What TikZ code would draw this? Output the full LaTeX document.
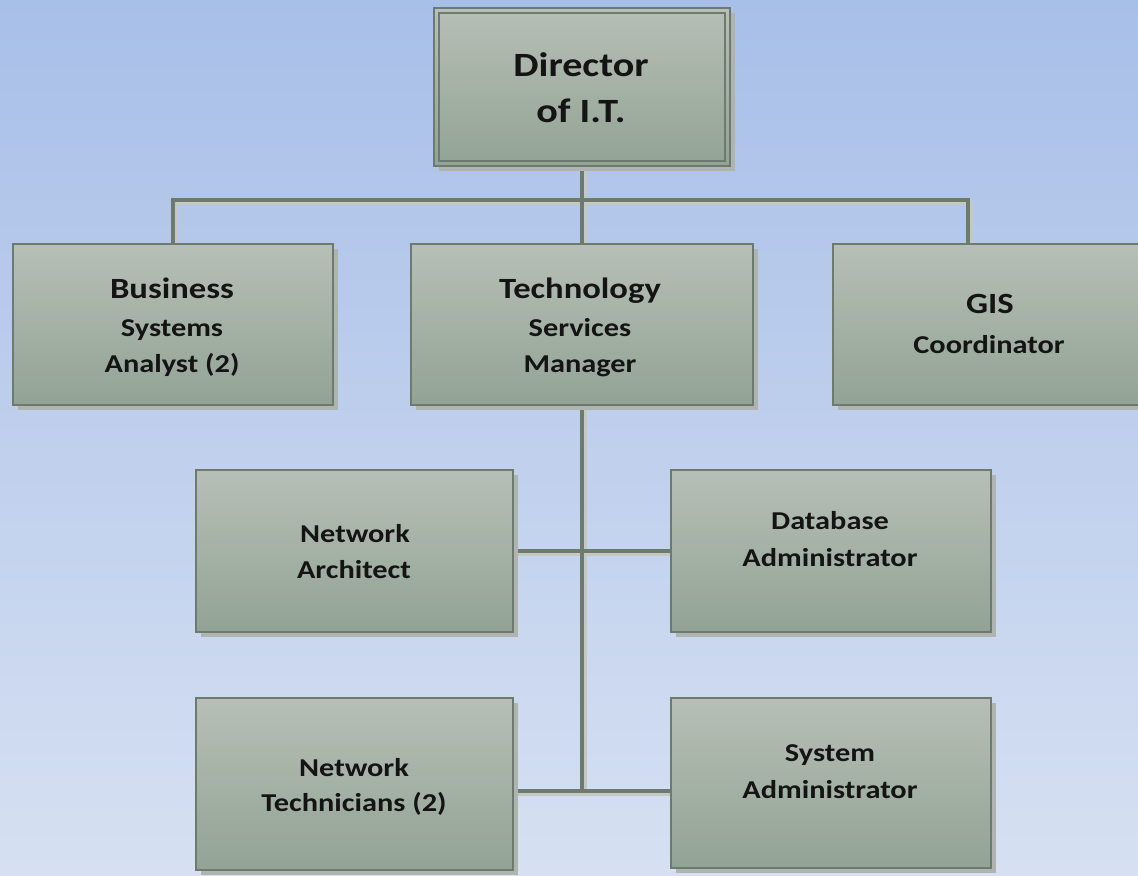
\documentclass[tikz,border=0pt]{standalone}
\usepackage{fontspec}
\setmainfont{Carlito}[FakeStretch=1.18]
\pgfdeclarelayer{bg}
\pgfdeclarelayer{lines}
\pgfsetlayers{bg,lines,main}
\definecolor{bgtop}{RGB}{168,191,232}
\definecolor{bgbot}{RGB}{214,224,242}
\definecolor{boxtop}{RGB}{183,191,182}
\definecolor{boxbot}{RGB}{146,163,149}
\definecolor{edge}{RGB}{108,122,111}
\definecolor{shadowc}{RGB}{176,180,174}
\definecolor{connlight}{RGB}{196,200,192}
\definecolor{txt}{RGB}{20,20,20}
\tikzset{
  orgbox/.style={rectangle, draw=edge, line width=1.6pt, top color=boxtop, bottom color=boxbot, inner sep=0pt, outer sep=0pt},
  conn/.style={draw=edge, line width=2.9pt},
  connsh/.style={draw=connlight, line width=2.4pt},
  lbl/.style={anchor=base, text=txt, inner sep=0pt, font=\bfseries\fontsize{19.3}{23}\selectfont},
  big/.style={font=\bfseries\fontsize{22}{26}\selectfont},
  huge/.style={font=\bfseries\fontsize{25.5}{30}\selectfont},
}
\newcommand\orgnode[5]{%
  \fill[shadowc] (#2+5,#3+5) rectangle (#4+5,#5+5);
  \node[orgbox, minimum width={(#4-#2)*0.75pt}, minimum height={(#5-#3)*0.75pt}] (#1) at ({(#2+#4)/2},{(#3+#5)/2}) {};
}
\newcommand\conns{%
  \draw (dir.south) -- (jt);
  \draw (bus.north) |- (jt) -| (gj);
  \draw (jt) -- (tech.north);
  \draw (tech.south) -- (jb);
  \draw (na.east) -- (da.west);
  \draw (nt.east |- jb) -- (sa.west |- jb);
}
\begin{document}
\begin{tikzpicture}[x=0.75pt,y=-0.75pt]
\useasboundingbox (0,0) rectangle (1138,875);
\begin{pgfonlayer}{bg}
\shade[top color=bgtop, bottom color=bgbot] (0,0) rectangle (1138,875);
\end{pgfonlayer}

% boxes
\orgnode{dir}{434}{8}{730}{166}
\draw[edge, line width=1.2pt] (439,13) rectangle (725,161);
\orgnode{bus}{13}{244}{333}{405}
\orgnode{tech}{411}{244}{753}{405}
\orgnode{gis}{833}{244}{1145}{405}
\orgnode{na}{196}{470}{513}{632}
\orgnode{da}{671}{470}{991}{632}
\orgnode{nt}{196}{698}{513}{870}
\orgnode{sa}{671}{698}{991}{868}

\coordinate (jt) at (582,200);
\coordinate (gj) at (968,244);
\coordinate (jb) at (582,791);

\begin{pgfonlayer}{lines}
\begin{scope}[transform canvas={shift={(3,3)}}, every path/.style={connsh}]
\conns
\end{scope}
\begin{scope}[every path/.style={conn}]
\conns
\end{scope}
\end{pgfonlayer}

% labels
\node[lbl, huge] (t1) at (581,76) {Director};
\node[lbl, huge] (t2) at (581,122) {of I.T.};
\node[lbl, big] (t3) at (172,298) {Business};
\node[lbl] (t4) at (172,336) {Systems};
\node[lbl] (t5) at (172,372) {Analyst (2)};
\node[lbl, big] (t6) at (580,298) {Technology};
\node[lbl] (t7) at (580,336) {Services};
\node[lbl] (t8) at (580,372) {Manager};
\node[lbl, big] (t9) at (990,313) {GIS};
\node[lbl] (t10) at (989,353) {Coordinator};
\node[lbl] (t11) at (355,542) {Network};
\node[lbl] (t12) at (354,578) {Architect};
\node[lbl] (t13) at (830,529) {Database};
\node[lbl] (t14) at (830,566) {Administrator};
\node[lbl] (t15) at (354,776) {Network};
\node[lbl] (t16) at (354,811) {Technicians (2)};
\node[lbl] (t17) at (830,761) {System};
\node[lbl] (t18) at (830,798) {Administrator};
\end{tikzpicture}
\end{document}
